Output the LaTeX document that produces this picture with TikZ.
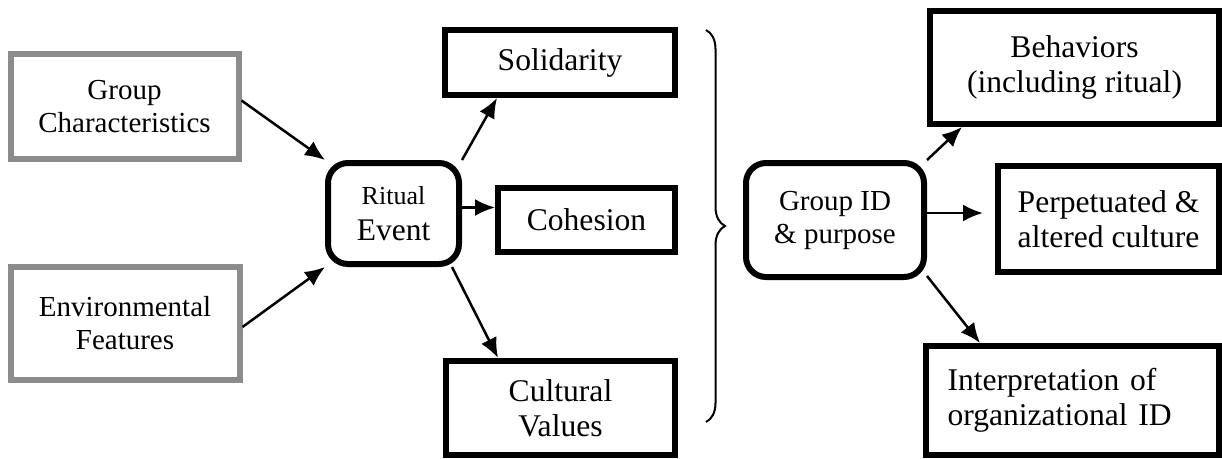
\documentclass[tikz,border=0pt]{standalone}
\usepackage{fontspec}
\setmainfont{Liberation Serif}
\usetikzlibrary{arrows.meta,decorations.pathreplacing}
\begin{document}
\begin{tikzpicture}[x=1pt,y=-1pt]
    \tikzset{>={Latex[length=20pt,width=17pt]},
      box/.style={draw,rectangle,align=center,inner sep=0pt},
      source/.style={box,draw=black!45,line width=6pt,font=\fontsize{29}{33}\selectfont},
      effect/.style={box,line width=6pt,font=\fontsize{31.6}{35}\selectfont},
      hub/.style={box,rounded corners=20pt,line width=6pt},
      link/.style={->,line width=2.5pt}};
    \useasboundingbox (0,0) rectangle (1222,458);
    % inputs
    \node[source,minimum width=228pt,minimum height=105pt] (GC) at (124.5,106.5) {Group\\Characteristics};
    \node[source,minimum width=229pt,minimum height=113pt] (EF) at (125,323) {Environmental\\Features};
    % the event and what it gives
    \node[hub,minimum width=131pt,minimum height=101pt,font=\fontsize{31.5}{36}\selectfont] (RE) at (393.5,213.5) {{\fontsize{26}{30}\selectfont Ritual}\\Event};
    \node[effect,minimum width=230pt,minimum height=65pt] (Sol) at (560,62.5) {Solidarity};
    \node[effect,minimum width=177pt,minimum height=64pt] (Coh) at (586.5,220) {Cohesion};
    \node[effect,minimum width=229pt,minimum height=94pt] (CV) at (560.5,408) {Cultural\\Values};
    \draw[line width=2pt,decorate,decoration={brace,amplitude=19pt}] (706,30) -- (706,422);
    % outcomes
    \node[hub,minimum width=178pt,minimum height=114pt,font=\fontsize{29}{33}\selectfont] (GID) at (835,220) {Group ID\\\& purpose};
    \node[effect,minimum width=289pt,minimum height=113pt] (Beh) at (1074.5,67.5) {Behaviors\\(including ritual)};
    \node[effect,minimum width=221pt,minimum height=106pt] (Perp) at (1108.5,219) {Perpetuated \&\\altered culture};
    \node[effect,minimum width=293pt,minimum height=109pt,text width=250pt,inner xsep=21.5pt,align=left] (Int) at (1072.5,400.5) {Interpretation of\\organizational ID};
    \draw[link] ([yshift=6pt]GC.east) -- (RE.north west);
    \draw[link] ([yshift=-4pt]EF.east) -- (RE.south west);
    \draw[link] (RE.north east) -- ([xshift=55pt]Sol.south west);
    \draw[link] ([yshift=6pt]RE.east) -- ([yshift=6pt]RE.east -| Coh.west);
    \draw[link] ([xshift=-10pt]RE.south east) -- ([xshift=55pt]CV.north west);
    \draw[link] (GID.north east) -- ([xshift=35pt]Beh.south west);
    \draw[link,shorten >=12pt] ([yshift=7pt]GID.east) -- ([yshift=7pt]GID.east -| Perp.west);
    \draw[link] ([yshift=4pt]GID.south east) -- ([xshift=57pt]Int.north west);
\end{tikzpicture}
\end{document}
